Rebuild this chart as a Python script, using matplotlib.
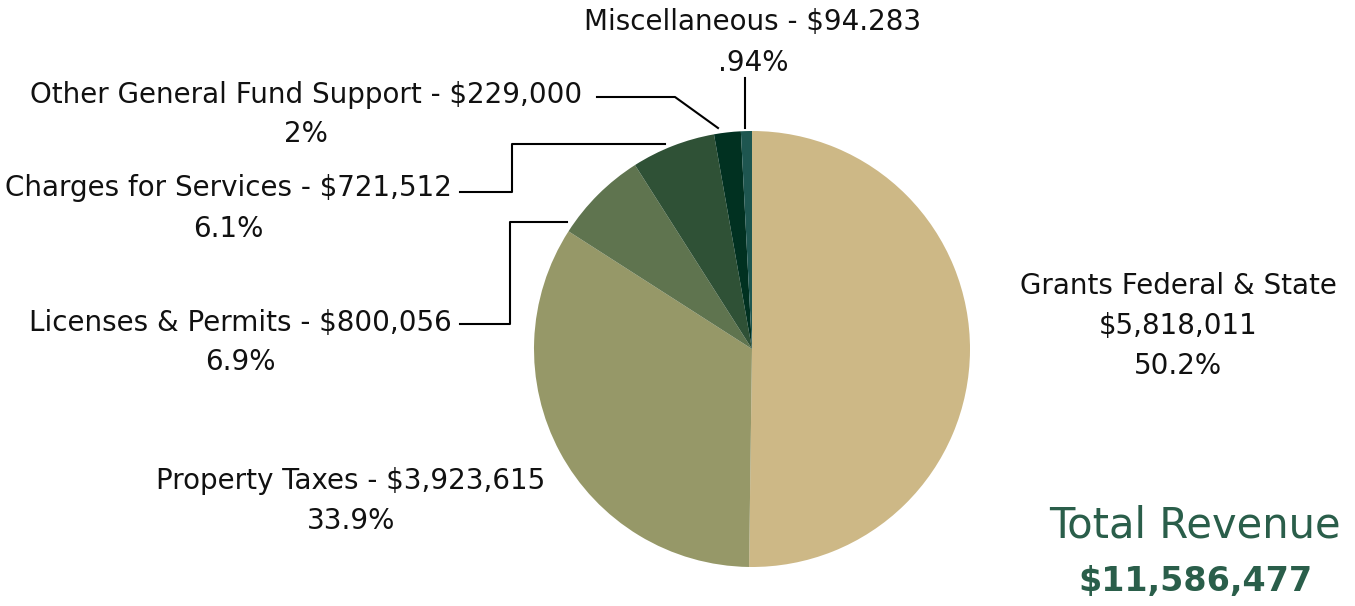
import matplotlib.pyplot as plt

# revenue data
cats = ['Grants Federal & State', 'Property Taxes', 'Licenses & Permits',
        'Charges for Services', 'Other General Fund Support', 'Miscellaneous']
values = [5818011, 3923615, 800056, 721512, 229000, 94283]
amount_txt = ['$5,818,011', '$3,923,615', '$800,056', '$721,512', '$229,000', '$94.283']
pct_txt = ['50.2%', '33.9%', '6.9%', '6.1%', '2%', '.94%']
colors = ['#CDB886', '#969868', '#5F744F', '#2F5136', '#013121', '#1E5650']
total_txt = '$11,586,477'

W, H = 1355, 606
plt.rcParams['font.family'] = ['DejaVu Sans']
fig = plt.figure(figsize=(W / 100, H / 100), dpi=100)
ax = fig.add_axes([0, 0, 1, 1])

def py(y):
    # pixel row (from top) -> data y
    return H - y

ax.pie(values, colors=colors, startangle=90, counterclock=False,
       center=(752, py(349)), radius=218, frame=True,
       wedgeprops=dict(linewidth=0))
ax.set_xlim(0, W)
ax.set_ylim(0, H)
ax.set_aspect('equal')
ax.axis('off')

fs = 20
tc = '#111111'
# grants, right of the pie
ax.text(1178, py(286), cats[0], ha='center', va='center', fontsize=fs, color=tc)
ax.text(1178, py(326), amount_txt[0], ha='center', va='center', fontsize=fs, color=tc)
ax.text(1178, py(366), pct_txt[0], ha='center', va='center', fontsize=fs, color=tc)

# centred labels
pos = {1: (351, 481, 521), 5: (753, 22, 63)}
for i, (x, y1, y2) in pos.items():
    ax.text(x, py(y1), cats[i] + ' - ' + amount_txt[i], ha='center', va='center',
            fontsize=fs, color=tc)
    ax.text(x, py(y2), pct_txt[i], ha='center', va='center', fontsize=fs, color=tc)

# labels that end at a leader line: right edge fixed, pct centred below
rpos = {2: (452, 323, 362), 3: (452, 188, 229), 4: (582, 95, 134)}
fig.canvas.draw()
rend = fig.canvas.get_renderer()
for i, (xr, y1, y2) in rpos.items():
    t = ax.text(xr, py(y1), cats[i] + ' - ' + amount_txt[i], ha='right', va='center',
                fontsize=fs, color=tc)
    bb = t.get_window_extent(rend)
    ax.text((bb.x0 + bb.x1) / 2, py(y2), pct_txt[i], ha='center', va='center',
            fontsize=fs, color=tc)

# leader lines
lk = dict(color='black', lw=1.5)
ax.plot([745, 745], [py(128), py(78)], **lk)
ax.plot([597, 675, 718], [py(97), py(97), py(128)], **lk)
ax.plot([460, 512, 512, 665], [py(192), py(192), py(144), py(144)], **lk)
ax.plot([460, 510, 510, 567], [py(324), py(324), py(222), py(222)], **lk)

# total
ax.text(1195, py(525), 'Total Revenue', ha='center', va='center',
        fontsize=30, color='#2A5E4A')
ax.text(1195, py(582), total_txt, ha='center', va='center',
        fontsize=24, color='#2A5E4A', fontweight='bold')

fig.savefig('out.png', dpi=100)
